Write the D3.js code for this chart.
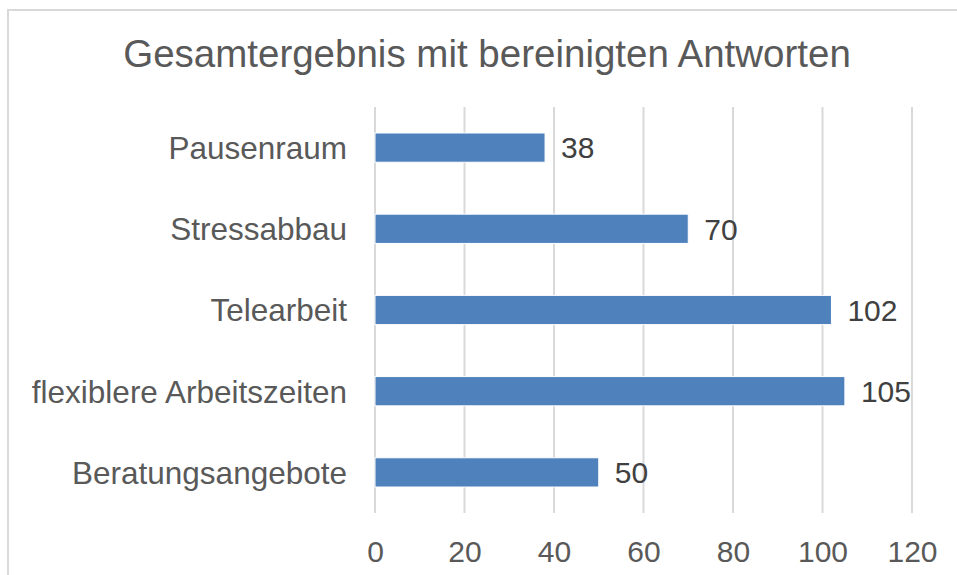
<!DOCTYPE html>
<html lang="de">
<head>
  <meta charset="UTF-8">
  <title>Gesamtergebnis</title>
  <style>
    body { margin: 0; background: #fff; font-family: "Liberation Sans", Arial, sans-serif; }
    svg { display: block; }
  </style>
</head>
<body>
<script src="https://d3js.org/d3.v7.min.js"></script>
<script>
  // Data
  const categories = ['Pausenraum', 'Stressabbau', 'Telearbeit', 'flexiblere Arbeitszeiten', 'Beratungsangebote'];
  const values = [38, 70, 102, 105, 50];
  const xTicks = [0, 20, 40, 60, 80, 100, 120];
  const title = 'Gesamtergebnis mit bereinigten Antworten';

  const width = 957, height = 575;
  const plot = { left: 375, right: 912, top: 107, bottom: 513 };

  const svg = d3.select('body').append('svg')
    .attr('width', width)
    .attr('height', height);

  // chart frame (cropped on right and bottom)
  svg.append('rect')
    .attr('x', 8).attr('y', 10)
    .attr('width', 980).attr('height', 600)
    .attr('fill', '#fff')
    .attr('stroke', '#d9d9d9')
    .attr('stroke-width', 2);

  svg.append('text')
    .attr('x', 487).attr('y', 67)
    .attr('text-anchor', 'middle')
    .attr('font-size', 38.5)
    .attr('fill', '#595959')
    .text(title);

  const x = d3.scaleLinear().domain([0, 120]).range([plot.left, plot.right]);
  const y = d3.scaleBand().domain(categories).range([plot.top, plot.bottom]).paddingInner(0.64).paddingOuter(0.32);

  // gridlines
  svg.append('g').selectAll('line')
    .data(xTicks)
    .join('line')
    .attr('x1', d => x(d)).attr('x2', d => x(d))
    .attr('y1', plot.top).attr('y2', plot.bottom)
    .attr('stroke', '#d9d9d9')
    .attr('stroke-width', 2);

  // x axis labels
  const xAxis = d3.axisBottom(x).tickValues(xTicks).tickSize(0).tickPadding(0);
  const gx = svg.append('g')
    .attr('transform', 'translate(0,' + plot.bottom + ')')
    .call(xAxis);
  gx.select('.domain').remove();
  gx.selectAll('text')
    .attr('font-family', '"Liberation Sans", Arial, sans-serif')
    .attr('font-size', 30)
    .attr('fill', '#595959')
    .attr('dy', null)
    .attr('y', 49);

  // y axis labels
  const yAxis = d3.axisLeft(y).tickSize(0).tickPadding(0);
  const gy = svg.append('g')
    .attr('transform', 'translate(347,0)')
    .call(yAxis);
  gy.select('.domain').remove();
  gy.selectAll('text')
    .attr('font-family', '"Liberation Sans", Arial, sans-serif')
    .attr('font-size', 31.5)
    .attr('fill', '#595959')
    .attr('dy', '0.36em');

  const rows = categories.map((c, i) => ({ c, v: values[i] }));

  // bars
  svg.append('g').selectAll('rect')
    .data(rows)
    .join('rect')
    .attr('x', x(0))
    .attr('y', d => y(d.c))
    .attr('width', d => x(d.v) - x(0))
    .attr('height', y.bandwidth())
    .attr('fill', '#4f81bd')
    .attr('stroke', '#fff')
    .attr('stroke-width', 1);

  // value labels
  svg.append('g').selectAll('text')
    .data(rows)
    .join('text')
    .attr('x', d => x(d.v) + 16)
    .attr('y', d => y(d.c) + y.bandwidth() / 2)
    .attr('dy', '0.36em')
    .attr('font-size', 30)
    .attr('fill', '#404040')
    .text(d => d.v);
</script>
</body>
</html>
